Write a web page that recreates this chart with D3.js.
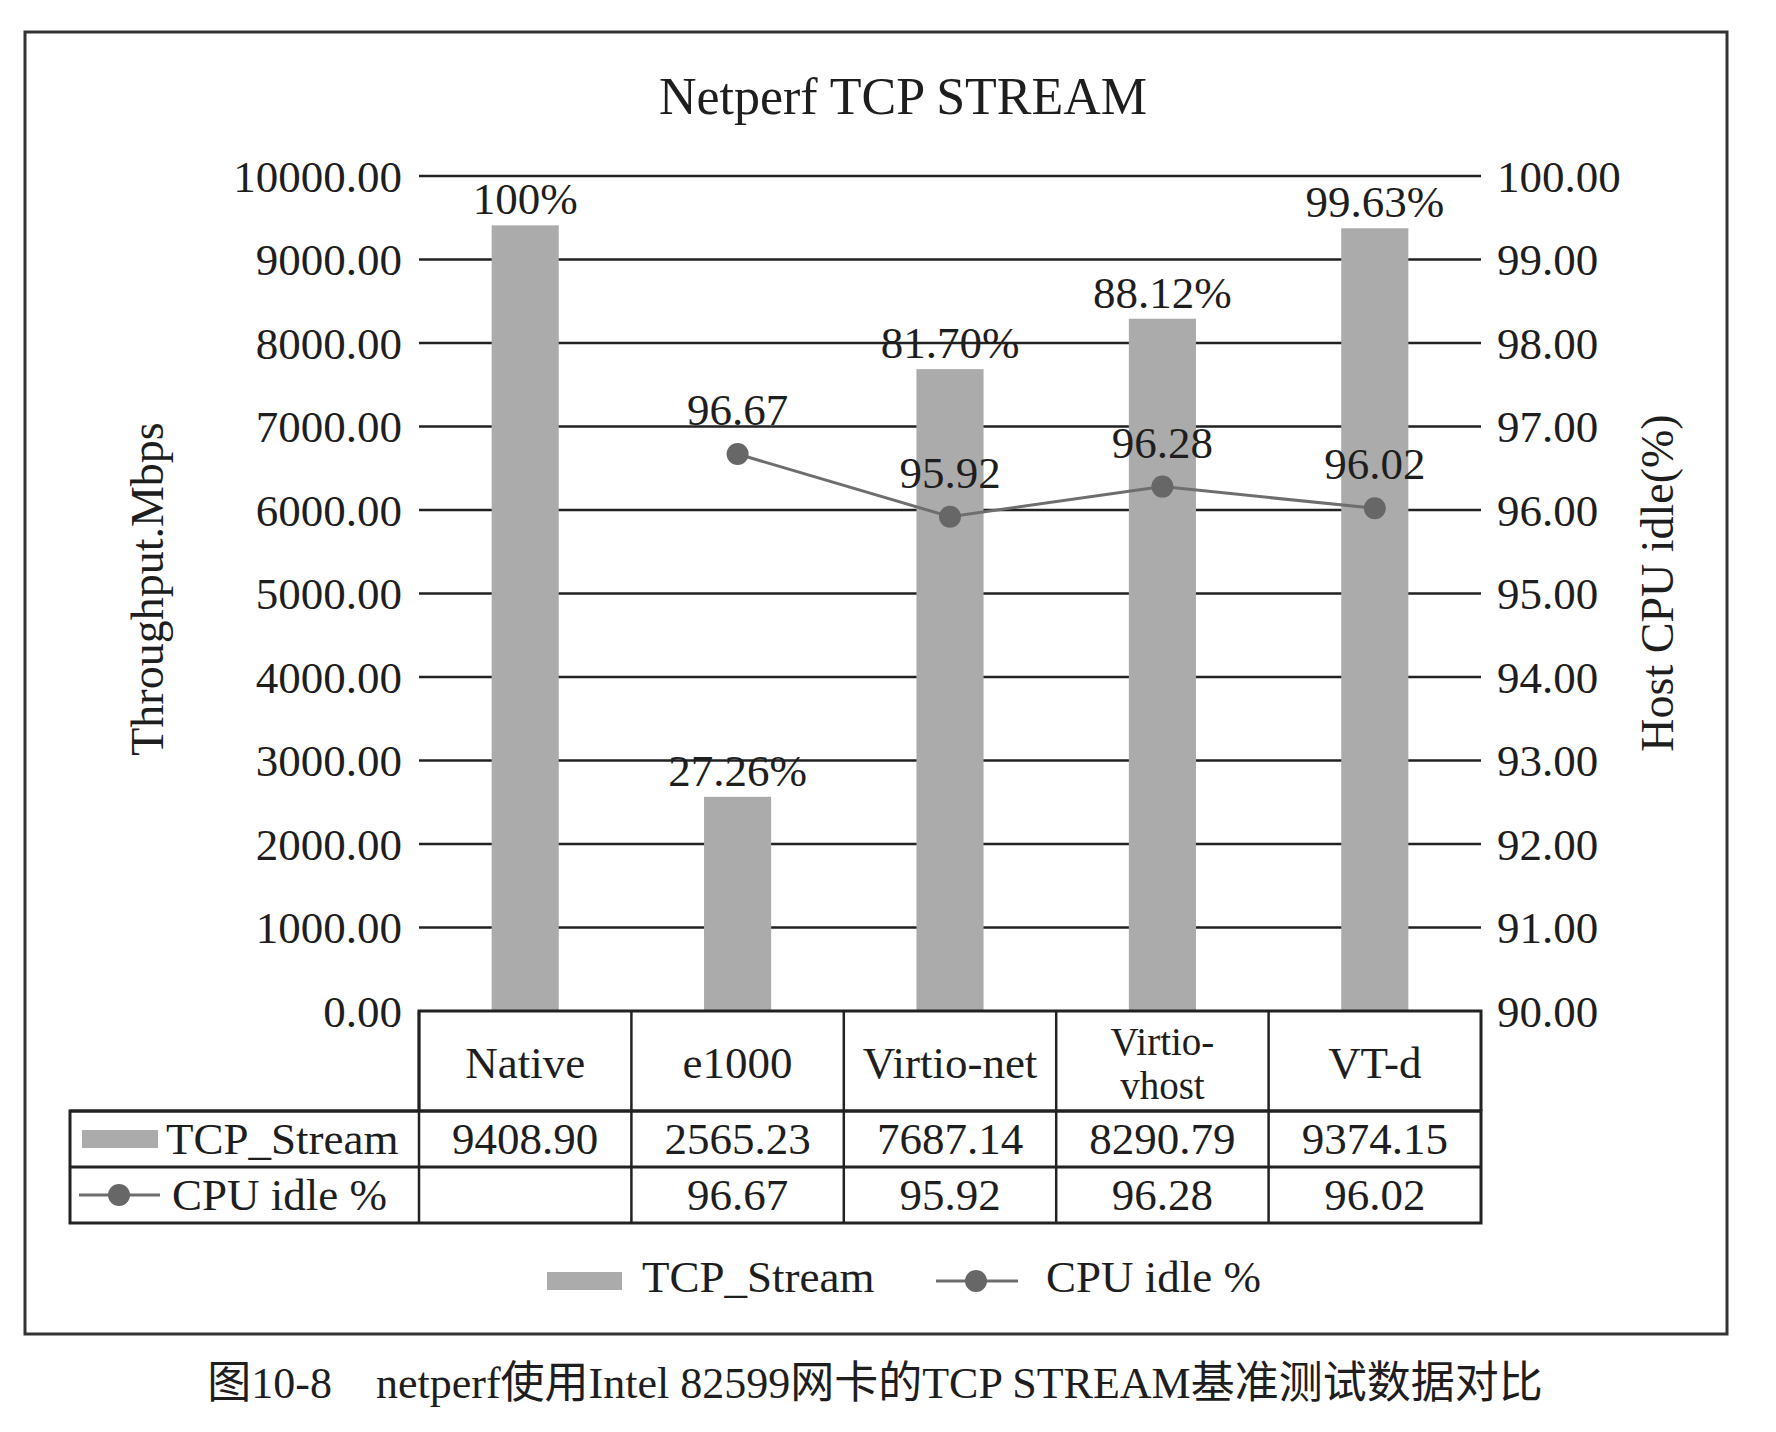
<!DOCTYPE html>
<html>
<head>
<meta charset="utf-8">
<script src="https://cdn.jsdelivr.net/npm/d3@7"></script>
<style>
html,body{margin:0;padding:0;background:#fff;}
svg{display:block;}
text{font-family:"Liberation Serif","Times New Roman",serif;fill:#1e1e1e;}
</style>
</head>
<body>
<svg id="chart" width="1776" height="1432"></svg>
<script>
// ---- data ----
const categories = ["Native", "e1000", "Virtio-net", "Virtio-vhost", "VT-d"];
const headerLines = [["Native"], ["e1000"], ["Virtio-net"], ["Virtio-", "vhost"], ["VT-d"]];
const tcpStream = [9408.90, 2565.23, 7687.14, 8290.79, 9374.15];
const tcpStreamText = ["9408.90", "2565.23", "7687.14", "8290.79", "9374.15"];
const barLabels = ["100%", "27.26%", "81.70%", "88.12%", "99.63%"];
const cpuIdle = [null, 96.67, 95.92, 96.28, 96.02];
const cpuIdleText = ["", "96.67", "95.92", "96.28", "96.02"];
const leftTicks = [0, 1000, 2000, 3000, 4000, 5000, 6000, 7000, 8000, 9000, 10000];
const rightTicks = [90, 91, 92, 93, 94, 95, 96, 97, 98, 99, 100];
const seriesNames = ["TCP_Stream", "CPU idle %"];
const title = "Netperf TCP STREAM";
const leftTitle = "Throughput.Mbps";
const rightTitle = "Host CPU idle(%)";
const caption = "图10-8\u3000netperf使用Intel 82599网卡的TCP STREAM基准测试数据对比";

// ---- layout ----
const W = 1776, H = 1432;
const plot = {left: 419, right: 1481, top: 176, bottom: 1011};
const rowH = [100, 56, 56];
const tableLeft = 70;
const barColor = "#ababab";
const lineColor = "#6e6e6e";
const markColor = "#676767";
const ink = "#1e1e1e";

const svg = d3.select("#chart");
svg.append("rect").attr("width", W).attr("height", H).attr("fill", "#fff");

// frame
svg.append("rect").attr("x", 25).attr("y", 32).attr("width", 1702).attr("height", 1302)
  .attr("fill", "none").attr("stroke", "#333").attr("stroke-width", 3);

const x = d3.scaleBand().domain(categories).range([plot.left, plot.right]).paddingInner(0).paddingOuter(0);
const yL = d3.scaleLinear().domain([0, 10000]).range([plot.bottom, plot.top]);
const yR = d3.scaleLinear().domain([90, 100]).range([plot.bottom, plot.top]);
const barW = x.bandwidth() * 0.316;
const cx = d => x(d) + x.bandwidth() / 2;

// title
svg.append("text").attr("x", 903).attr("y", 114).attr("text-anchor", "middle")
  .style("font-size", "52px").text(title);

// gridlines
svg.append("g").selectAll("line").data(leftTicks.slice(1)).join("line")
  .attr("x1", plot.left).attr("x2", plot.right)
  .attr("y1", d => yL(d)).attr("y2", d => yL(d))
  .attr("stroke", "#222").attr("stroke-width", 2.6);

// left axis labels
const axL = d3.axisLeft(yL).tickValues(leftTicks).tickFormat(d3.format(".2f")).tickSize(0).tickPadding(17);
const gL = svg.append("g").attr("transform", `translate(${plot.left},0)`).call(axL);
gL.select(".domain").remove();
gL.selectAll("text").style("font-size", "45px").attr("fill", ink).attr("font-family", null).attr("dy", "0.34em");

// right axis labels
const axR = d3.axisRight(yR).tickValues(rightTicks).tickFormat(d3.format(".2f")).tickSize(0).tickPadding(16);
const gR = svg.append("g").attr("transform", `translate(${plot.right},0)`).call(axR);
gR.select(".domain").remove();
gR.selectAll("text").style("font-size", "45px").attr("fill", ink).attr("font-family", null).attr("dy", "0.34em");

// axis titles
svg.append("text").attr("transform", `translate(147,589) rotate(-90)`).attr("text-anchor", "middle")
  .attr("dy", "0.35em").style("font-size", "46px").text(leftTitle);
svg.append("text").attr("transform", `translate(1657,583) rotate(-90)`).attr("text-anchor", "middle")
  .attr("dy", "0.35em").style("font-size", "46px").text(rightTitle);

// bars
svg.append("g").selectAll("rect").data(categories).join("rect")
  .attr("x", (d) => cx(d) - barW / 2)
  .attr("width", barW)
  .attr("y", (d, i) => yL(tcpStream[i]))
  .attr("height", (d, i) => yL(0) - yL(tcpStream[i]))
  .attr("fill", barColor);

// bar labels
svg.append("g").selectAll("text").data(categories).join("text")
  .attr("x", d => cx(d)).attr("y", (d, i) => yL(tcpStream[i]) - 11)
  .attr("text-anchor", "middle").style("font-size", "45px")
  .text((d, i) => barLabels[i]);

// line
const pts = categories.map((c, i) => ({c, v: cpuIdle[i], t: cpuIdleText[i]})).filter(p => p.v != null);
const line = d3.line().x(p => cx(p.c)).y(p => yR(p.v));
svg.append("path").datum(pts).attr("d", line).attr("fill", "none")
  .attr("stroke", lineColor).attr("stroke-width", 3);
svg.append("g").selectAll("circle").data(pts).join("circle")
  .attr("cx", p => cx(p.c)).attr("cy", p => yR(p.v)).attr("r", 11).attr("fill", markColor);
svg.append("g").selectAll("text").data(pts).join("text")
  .attr("x", p => cx(p.c)).attr("y", p => yR(p.v) - 29)
  .attr("text-anchor", "middle").style("font-size", "45px").text(p => p.t);

// ---- data table ----
const t0 = plot.bottom, t1 = t0 + rowH[0], t2 = t1 + rowH[1], t3 = t2 + rowH[2];
const tbl = svg.append("g").attr("stroke", "#222").attr("fill", "none");
tbl.append("path").attr("d", `M${plot.left},${t1} V${t0} H${plot.right} V${t1}`).attr("stroke-width", 3);
tbl.append("rect").attr("x", tableLeft).attr("y", t1).attr("width", plot.right - tableLeft).attr("height", t3 - t1).attr("stroke-width", 3);
tbl.append("line").attr("x1", tableLeft).attr("x2", plot.right).attr("y1", t1).attr("y2", t1).attr("stroke-width", 3);
tbl.append("line").attr("x1", tableLeft).attr("x2", plot.right).attr("y1", t2).attr("y2", t2).attr("stroke-width", 3);
const seps = categories.map(c => x(c));
tbl.selectAll(".sep").data(seps).join("line").attr("class", "sep")
  .attr("x1", d => d).attr("x2", d => d).attr("y1", t0).attr("y2", t3).attr("stroke-width", 2.5);

// header text
const hdr = svg.append("g").selectAll("text").data(categories).join("text")
  .attr("x", d => cx(d)).attr("text-anchor", "middle").style("font-size", "45px");
hdr.each(function(d, i) {
  const lines = headerLines[i];
  const sel = d3.select(this);
  if (lines.length === 1) {
    sel.attr("y", t0 + 67).text(lines[0]);
  } else {
    sel.style("font-size", "39px");
    lines.forEach((l, k) => sel.append("tspan").attr("x", cx(d)).attr("y", t0 + 44 + k * 44).text(l));
  }
});

// row 1: tcp values
svg.append("g").selectAll("text").data(categories).join("text")
  .attr("x", d => cx(d)).attr("y", t1 + 43).attr("text-anchor", "middle")
  .style("font-size", "45px").text((d, i) => tcpStreamText[i]);
// row 2: cpu values
svg.append("g").selectAll("text").data(categories).join("text")
  .attr("x", d => cx(d)).attr("y", t2 + 43).attr("text-anchor", "middle")
  .style("font-size", "45px").text((d, i) => cpuIdleText[i]);

// row keys
svg.append("rect").attr("x", 82).attr("y", t1 + 19).attr("width", 76).attr("height", 18).attr("fill", barColor);
svg.append("text").attr("x", 166).attr("y", t1 + 43).style("font-size", "45px").text(seriesNames[0]);
svg.append("line").attr("x1", 79).attr("x2", 160).attr("y1", t2 + 28).attr("y2", t2 + 28)
  .attr("stroke", lineColor).attr("stroke-width", 3);
svg.append("circle").attr("cx", 119).attr("cy", t2 + 28).attr("r", 11).attr("fill", markColor);
svg.append("text").attr("x", 172).attr("y", t2 + 43).style("font-size", "45px").text(seriesNames[1]);

// ---- legend ----
const lg = svg.append("g");
lg.append("rect").attr("x", 547).attr("y", 1272).attr("width", 75).attr("height", 18).attr("fill", barColor);
lg.append("text").attr("x", 642).attr("y", 1292).style("font-size", "45px").text(seriesNames[0]);
lg.append("line").attr("x1", 936).attr("x2", 1018).attr("y1", 1281).attr("y2", 1281)
  .attr("stroke", lineColor).attr("stroke-width", 3);
lg.append("circle").attr("cx", 976).attr("cy", 1281).attr("r", 11).attr("fill", markColor);
lg.append("text").attr("x", 1046).attr("y", 1292).style("font-size", "45px").text(seriesNames[1]);

// caption
svg.append("text").attr("x", 875).attr("y", 1398).attr("text-anchor", "middle")
  .style("font-size", "44px")
  .style("font-family", "'Liberation Serif','Noto Sans CJK SC',serif")
  .text(caption);
</script>
</body>
</html>
